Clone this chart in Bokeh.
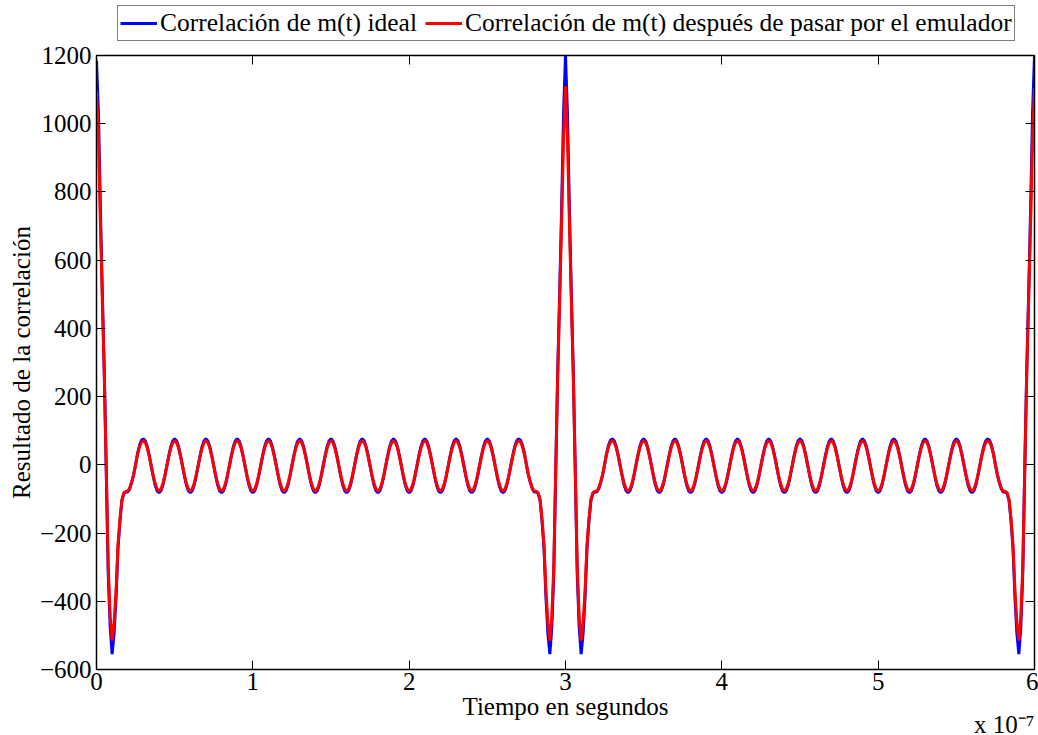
from bokeh.plotting import figure
from bokeh.layouts import column
from bokeh.models import (Range1d, FixedTicker, CustomJSTickFormatter, LinearAxis,
                          Legend, LegendItem, Title)
from bokeh.embed import file_html
from bokeh.resources import INLINE

# Sample spacing of the correlation output (seconds)
T_STEP = 1.25e-9

# Correlation of the ideal m(t)
corr_ideal = [
    1185, 1030, 750, 500, 270, -20, -320, -475, -555, -495, -390, -245, -165, -105, -84, -80, -80, -70, -52, -30, 0, 33, 57, 72, 76,
    70, 53, 27, -3, -33, -59, -76, -82, -76, -59, -33, -3, 27, 53, 70, 76,
    70, 53, 27, -3, -33, -59, -76, -82, -76, -59, -33, -3, 27, 53, 70, 76,
    70, 53, 27, -3, -33, -59, -76, -82, -76, -59, -33, -3, 27, 53, 70, 76,
    70, 53, 27, -3, -33, -59, -76, -82, -76, -59, -33, -3, 27, 53, 70, 76,
    70, 53, 27, -3, -33, -59, -76, -82, -76, -59, -33, -3, 27, 53, 70, 76,
    70, 53, 27, -3, -33, -59, -76, -82, -76, -59, -33, -3, 27, 53, 70, 76,
    70, 53, 27, -3, -33, -59, -76, -82, -76, -59, -33, -3, 27, 53, 70, 76,
    70, 53, 27, -3, -33, -59, -76, -82, -76, -59, -33, -3, 27, 53, 70, 76,
    70, 53, 27, -3, -33, -59, -76, -82, -76, -59, -33, -3, 27, 53, 70, 76,
    70, 53, 27, -3, -33, -59, -76, -82, -76, -59, -33, -3, 27, 53, 70, 76,
    70, 53, 27, -3, -33, -59, -76, -82, -76, -59, -33, -3, 27, 53, 70, 76,
    70, 53, 27, -3, -33, -59, -76, -82, -76, -59, -33, -3, 27, 53, 70, 76,
    72, 57, 33, 0, -30, -52, -70, -80, -80, -84, -105, -165, -245, -390, -495, -555, -475, -320, -20, 270, 500, 750, 1030, 1200,
    1030, 750, 500, 270, -20, -320, -475, -555, -495, -390, -245, -165, -105, -84, -80, -80, -70, -52, -30, 0, 33, 57, 72, 76,
    70, 53, 27, -3, -33, -59, -76, -82, -76, -59, -33, -3, 27, 53, 70, 76,
    70, 53, 27, -3, -33, -59, -76, -82, -76, -59, -33, -3, 27, 53, 70, 76,
    70, 53, 27, -3, -33, -59, -76, -82, -76, -59, -33, -3, 27, 53, 70, 76,
    70, 53, 27, -3, -33, -59, -76, -82, -76, -59, -33, -3, 27, 53, 70, 76,
    70, 53, 27, -3, -33, -59, -76, -82, -76, -59, -33, -3, 27, 53, 70, 76,
    70, 53, 27, -3, -33, -59, -76, -82, -76, -59, -33, -3, 27, 53, 70, 76,
    70, 53, 27, -3, -33, -59, -76, -82, -76, -59, -33, -3, 27, 53, 70, 76,
    70, 53, 27, -3, -33, -59, -76, -82, -76, -59, -33, -3, 27, 53, 70, 76,
    70, 53, 27, -3, -33, -59, -76, -82, -76, -59, -33, -3, 27, 53, 70, 76,
    70, 53, 27, -3, -33, -59, -76, -82, -76, -59, -33, -3, 27, 53, 70, 76,
    70, 53, 27, -3, -33, -59, -76, -82, -76, -59, -33, -3, 27, 53, 70, 76,
    70, 53, 27, -3, -33, -59, -76, -82, -76, -59, -33, -3, 27, 53, 70, 76,
    72, 57, 33, 0, -30, -52, -70, -80, -80, -84, -105, -165, -245, -390, -495, -555, -475, -320, -20, 270, 500, 750, 1030, 1200,
]

# Correlation of m(t) after the channel emulator
corr_emulated = [
    1095, 960, 710, 480, 260, -15, -300, -445, -515, -465, -370, -235, -160, -102, -82, -78, -77, -68, -50, -28, 0, 31, 53, 67, 71,
    65, 49, 25, -3, -31, -55, -71, -77, -71, -55, -31, -3, 25, 49, 65, 71,
    65, 49, 25, -3, -31, -55, -71, -77, -71, -55, -31, -3, 25, 49, 65, 71,
    65, 49, 25, -3, -31, -55, -71, -77, -71, -55, -31, -3, 25, 49, 65, 71,
    65, 49, 25, -3, -31, -55, -71, -77, -71, -55, -31, -3, 25, 49, 65, 71,
    65, 49, 25, -3, -31, -55, -71, -77, -71, -55, -31, -3, 25, 49, 65, 71,
    65, 49, 25, -3, -31, -55, -71, -77, -71, -55, -31, -3, 25, 49, 65, 71,
    65, 49, 25, -3, -31, -55, -71, -77, -71, -55, -31, -3, 25, 49, 65, 71,
    65, 49, 25, -3, -31, -55, -71, -77, -71, -55, -31, -3, 25, 49, 65, 71,
    65, 49, 25, -3, -31, -55, -71, -77, -71, -55, -31, -3, 25, 49, 65, 71,
    65, 49, 25, -3, -31, -55, -71, -77, -71, -55, -31, -3, 25, 49, 65, 71,
    65, 49, 25, -3, -31, -55, -71, -77, -71, -55, -31, -3, 25, 49, 65, 71,
    65, 49, 25, -3, -31, -55, -71, -77, -71, -55, -31, -3, 25, 49, 65, 71,
    67, 53, 31, 0, -28, -50, -68, -77, -78, -82, -102, -160, -235, -370, -465, -515, -445, -300, -15, 260, 480, 710, 960, 1110,
    960, 710, 480, 260, -15, -300, -445, -515, -465, -370, -235, -160, -102, -82, -78, -77, -68, -50, -28, 0, 31, 53, 67, 71,
    65, 49, 25, -3, -31, -55, -71, -77, -71, -55, -31, -3, 25, 49, 65, 71,
    65, 49, 25, -3, -31, -55, -71, -77, -71, -55, -31, -3, 25, 49, 65, 71,
    65, 49, 25, -3, -31, -55, -71, -77, -71, -55, -31, -3, 25, 49, 65, 71,
    65, 49, 25, -3, -31, -55, -71, -77, -71, -55, -31, -3, 25, 49, 65, 71,
    65, 49, 25, -3, -31, -55, -71, -77, -71, -55, -31, -3, 25, 49, 65, 71,
    65, 49, 25, -3, -31, -55, -71, -77, -71, -55, -31, -3, 25, 49, 65, 71,
    65, 49, 25, -3, -31, -55, -71, -77, -71, -55, -31, -3, 25, 49, 65, 71,
    65, 49, 25, -3, -31, -55, -71, -77, -71, -55, -31, -3, 25, 49, 65, 71,
    65, 49, 25, -3, -31, -55, -71, -77, -71, -55, -31, -3, 25, 49, 65, 71,
    65, 49, 25, -3, -31, -55, -71, -77, -71, -55, -31, -3, 25, 49, 65, 71,
    65, 49, 25, -3, -31, -55, -71, -77, -71, -55, -31, -3, 25, 49, 65, 71,
    65, 49, 25, -3, -31, -55, -71, -77, -71, -55, -31, -3, 25, 49, 65, 71,
    67, 53, 31, 0, -28, -50, -68, -77, -78, -82, -102, -160, -235, -370, -465, -515, -445, -300, -15, 260, 480, 710, 960, 1105,
]

time_s = [i * T_STEP for i in range(len(corr_ideal))]

x_ticks = [k * 1e-7 for k in range(7)]
y_ticks = [-600, -400, -200, 0, 200, 400, 600, 800, 1000, 1200]

label_ideal = "Correlación de m(t) ideal"
label_emulated = "Correlación de m(t) después de pasar por el emulador"
x_title = "Tiempo en segundos"
y_title = "Resultado de la correlación"
x_scale_note = "x 10\u207b\u2077"

FONT = "Liberation Serif"
FS = "25px"
BLUE = "#0000ff"
RED = "#ff0000"

LEG_H = 41
MAIN_H = 735 - LEG_H

# ---- main axes -------------------------------------------------------------
p = figure(width=1038, height=MAIN_H, output_backend="svg", toolbar_location=None,
           x_range=Range1d(0, 6e-7), y_range=Range1d(-600, 1200),
           min_border_left=96, min_border_right=4, min_border_bottom=66,
           min_border_top=55 - LEG_H,
           background_fill_color="white", border_fill_color="white")
p.xgrid.grid_line_color = None
p.ygrid.grid_line_color = None
p.outline_line_color = "black"
p.outline_line_width = 1.5

p.line(time_s, corr_ideal, line_color=BLUE, line_width=3)
p.line(time_s, corr_emulated, line_color=RED, line_width=3)

x_fmt = CustomJSTickFormatter(code="return (tick * 1e7).toFixed(0);")
y_fmt = CustomJSTickFormatter(code="return tick < 0 ? '\u2212' + Math.abs(tick) : String(tick);")
blank_fmt = CustomJSTickFormatter(code="return '';")


def style_axis(ax):
    ax.major_tick_in = 9
    ax.major_tick_out = 0
    ax.minor_tick_line_color = None
    ax.axis_line_color = "black"
    ax.major_tick_line_color = "black"
    ax.major_label_text_font = FONT
    ax.major_label_text_font_size = FS
    ax.major_label_text_color = "black"
    ax.axis_label_text_font = FONT
    ax.axis_label_text_font_size = FS
    ax.axis_label_text_font_style = "normal"
    ax.axis_label_text_color = "black"


xa = p.xaxis[0]
xa.ticker = FixedTicker(ticks=x_ticks)
xa.formatter = x_fmt
xa.axis_label = x_title
xa.major_label_standoff = 3
xa.axis_label_standoff = 0
style_axis(xa)

ya = p.yaxis[0]
ya.ticker = FixedTicker(ticks=y_ticks)
ya.formatter = y_fmt
ya.axis_label = y_title
ya.major_label_standoff = 5
ya.axis_label_standoff = 2
style_axis(ya)

top_axis = LinearAxis(ticker=FixedTicker(ticks=x_ticks), formatter=blank_fmt,
                      major_label_standoff=0, major_label_text_font_size="0px")
right_axis = LinearAxis(ticker=FixedTicker(ticks=y_ticks), formatter=blank_fmt,
                        major_label_standoff=0, major_label_text_font_size="0px")
for ax in (top_axis, right_axis):
    ax.major_tick_in = 9
    ax.major_tick_out = 0
    ax.minor_tick_line_color = None
    ax.axis_line_color = "black"
    ax.major_tick_line_color = "black"
p.add_layout(top_axis, "above")
p.add_layout(right_axis, "right")

# exponent of the time axis, right-aligned under the axis title
p.add_layout(Title(text=x_scale_note, align="right", standoff=-30,
                   text_font=FONT, text_font_size=FS, text_font_style="normal",
                   text_color="black"), "below")

# ---- legend strip above the axes (frame is aligned with the main frame) ------
leg = figure(width=1038, height=LEG_H, output_backend="svg", toolbar_location=None,
             x_axis_type=None, y_axis_type=None,
             x_range=Range1d(0, 6e-7), y_range=Range1d(5000, 6000),
             min_border_left=96, min_border_right=4, min_border_top=0, min_border_bottom=0,
             background_fill_color="white", border_fill_color="white", outline_line_color=None)
leg.xgrid.grid_line_color = None
leg.ygrid.grid_line_color = None
# same series, drawn outside this strip's y-range: only their legend keys show
key_ideal = leg.line(time_s, corr_ideal, line_color=BLUE, line_width=3)
key_emul = leg.line(time_s, corr_emulated, line_color=RED, line_width=3)

legend = Legend(items=[LegendItem(label=label_ideal, renderers=[key_ideal]),
                       LegendItem(label=label_emulated, renderers=[key_emul])],
                orientation="horizontal", location=(21, 0),
                label_text_font=FONT, label_text_font_size="25.5px",
                label_text_color="black",
                glyph_width=37, glyph_height=20, label_standoff=3, spacing=8,
                padding=2, margin=0, border_line_color="black", border_line_width=1,
                background_fill_color="white", background_fill_alpha=1.0)
leg.add_layout(legend, "center")

page = column(leg, p, spacing=0)
open("out.html", "w").write(file_html(page, INLINE))
